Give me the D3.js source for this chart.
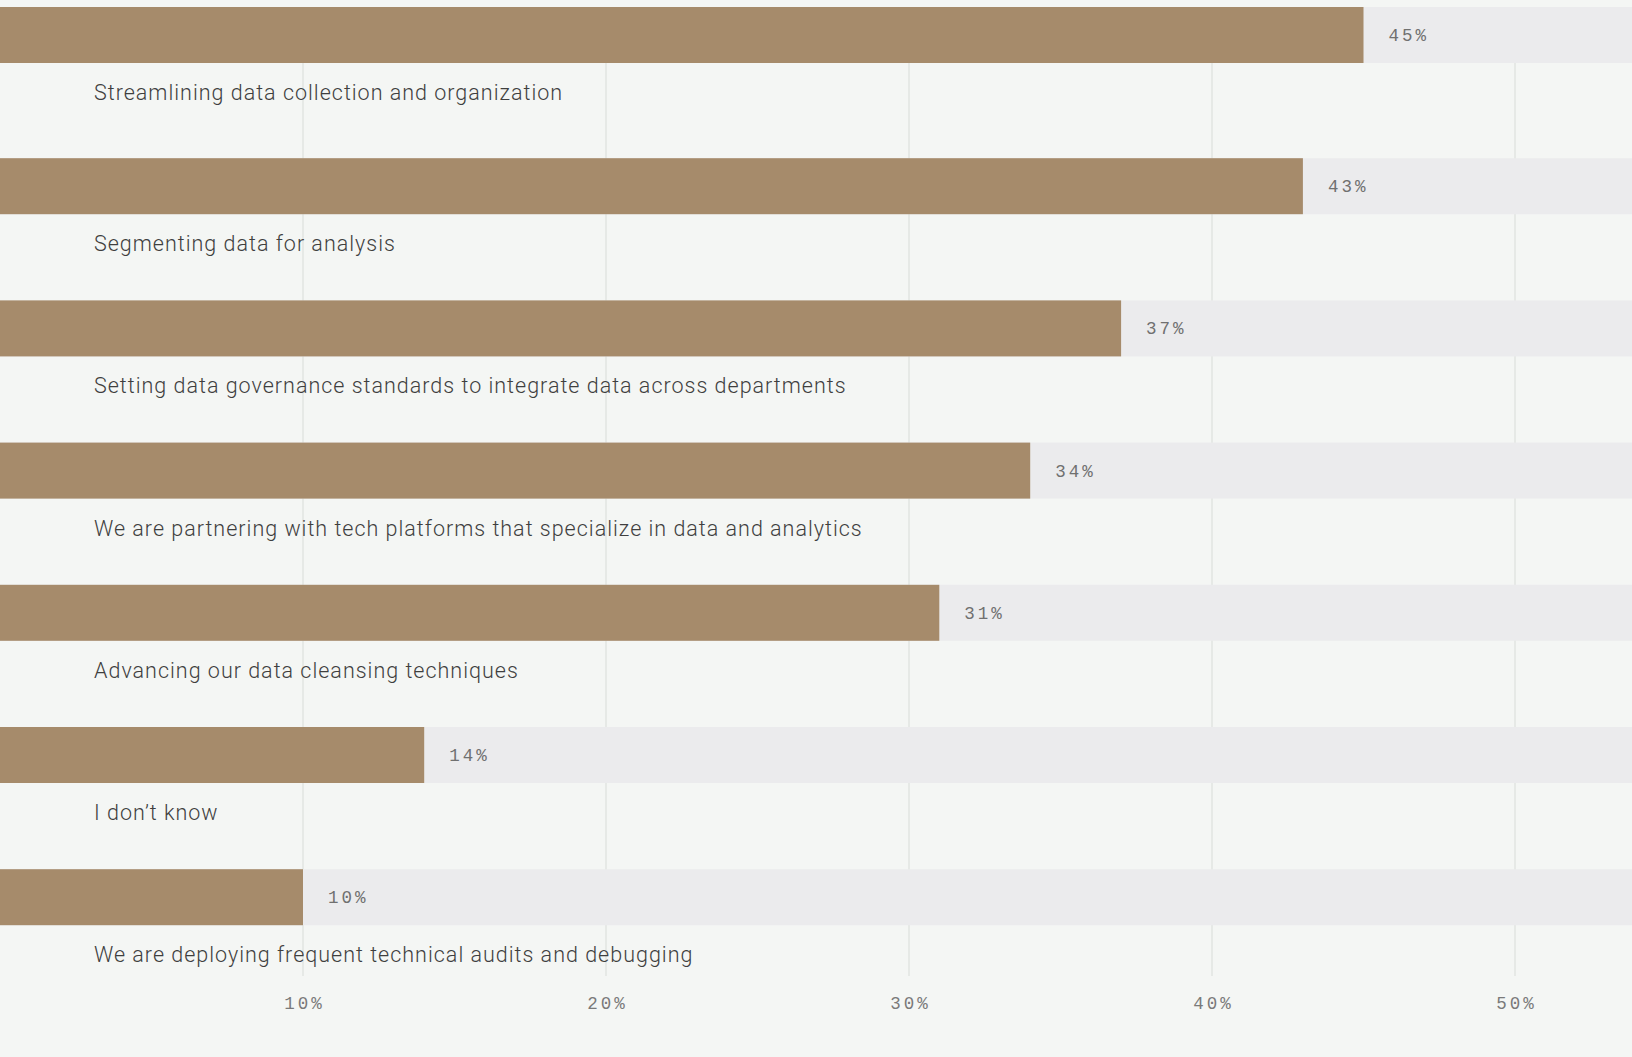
<!DOCTYPE html>
<html>
<head>
<meta charset="utf-8">
<script src="https://cdn.jsdelivr.net/npm/d3@7"></script>
<style>
  html, body { margin: 0; padding: 0; background: #f4f6f4; overflow: hidden; }
</style>
</head>
<body>
<script>
// answers, top to bottom
const categories = [
    'Streamlining data collection and organization',
    'Segmenting data for analysis',
    'Setting data governance standards to integrate data across departments',
    'We are partnering with tech platforms that specialize in data and analytics',
    'Advancing our data cleansing techniques',
    'I don\u2019t know',
    'We are deploying frequent technical audits and debugging'
];
const values = [45, 43, 37, 34, 31, 14, 10];
const tickValues = [10, 20, 30, 40, 50];

const svgWid = 1632;
const svgHt = 1057;
const barH = 56;
const rowStep = 142.2;
const firstRowShift = 9; // first row sits a bit higher than the rest

const svg = d3.select('body').append('svg').attr('width', svgWid).attr('height', svgHt);

const xScale = d3.scaleLinear().domain([0, 50]).range([0, 1515]);

const yScale = d3.scaleBand().domain(categories)
    .range([16, 16 + rowStep * categories.length])
    .paddingInner(0).paddingOuter(0);

const rowTop = (d, i) => yScale(d) - (i === 0 ? firstRowShift : 0);

const data = categories.map((c, i) => ({cat: c, val: values[i], i: i}));

const monoFont = '"Liberation Mono", "DejaVu Sans Mono", monospace';

//grid lines (behind the bars)
const gridTop = rowTop(categories[0], 0);
const gridBottom = 976;
svg.append('g').selectAll('line').data(tickValues).enter()
    .append('line')
    .attr('x1', d => xScale(d)).attr('x2', d => xScale(d))
    .attr('y1', gridTop).attr('y2', gridBottom)
    .attr('stroke', '#e2e4e2').attr('stroke-width', 1.5);

//tick labels
const xAxis = d3.axisBottom(xScale).tickValues(tickValues).tickSize(0).tickPadding(0)
    .tickFormat(d => d + '%');
const xAxisG = svg.append('g').attr('transform', `translate(0,${gridBottom})`).call(xAxis);
xAxisG.select('.domain').remove();
xAxisG.selectAll('text')
    .attr('y', 33).attr('dy', null)
    .attr('x', 1)
    .attr('fill', '#7a7a7a')
    .attr('font-family', monoFont)
    .attr('font-size', '17.5px')
    .attr('letter-spacing', '3px');

const rows = svg.append('g').selectAll('g').data(data).enter()
    .append('g').attr('transform', d => `translate(0,${rowTop(d.cat, d.i)})`);

//track
rows.append('rect')
    .attr('x', 0).attr('y', 0)
    .attr('width', svgWid).attr('height', barH)
    .attr('fill', '#ebebed');

//bar
rows.append('rect')
    .attr('x', 0).attr('y', 0)
    .attr('width', d => xScale(d.val)).attr('height', barH)
    .attr('fill', '#a68b6b');

//value label
rows.append('text')
    .text(d => d.val + '%')
    .attr('x', d => xScale(d.val) + 25)
    .attr('y', barH / 2 + 6)
    .attr('fill', '#707070')
    .attr('font-family', monoFont)
    .attr('font-size', '17.5px')
    .attr('letter-spacing', '3px');

//category label
rows.append('text')
    .text(d => d.cat)
    .attr('x', 94)
    .attr('y', 93)
    .attr('fill', '#3f3f3f')
    .attr('font-family', 'Roboto, "Open Sans", sans-serif')
    .attr('font-weight', 300)
    .attr('font-size', '21.5px')
    .attr('letter-spacing', '1px');
</script>
</body>
</html>
